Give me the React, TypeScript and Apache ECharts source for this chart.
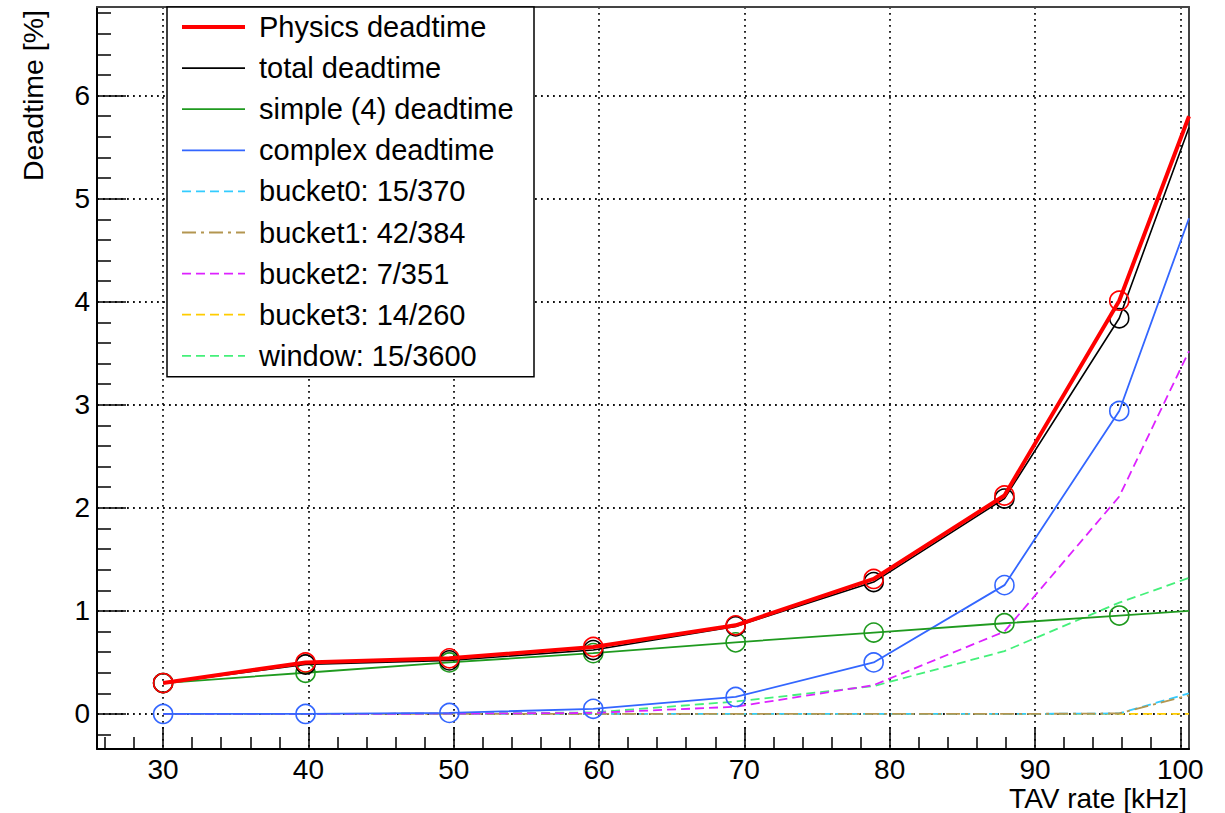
import React, { useEffect, useRef } from "react";
import * as echarts from "echarts";

// TAV rate [kHz] of each measurement (last entry = right edge of the frame, line end only)
const rateKHz = [30, 39.8, 49.7, 59.6, 69.4, 78.9, 87.9, 95.8, 100.6];

const physicsDeadtime = [0.3, 0.5, 0.54, 0.65, 0.86, 1.31, 2.12, 4.01, 5.8];
const totalDeadtime = [0.3, 0.48, 0.52, 0.62, 0.85, 1.28, 2.09, 3.84, 5.69];
const simpleDeadtime = [0.3, 0.4, 0.5, 0.59, 0.695, 0.79, 0.88, 0.955, 1.0];
const complexDeadtime = [0.0, 0.0, 0.01, 0.05, 0.165, 0.5, 1.25, 2.94, 4.81];
const bucket0 = [0, 0, 0, 0, 0, 0, 0, 0.005, 0.2];
const bucket1 = [0, 0, 0, 0, 0, 0, 0, 0.005, 0.18];
const bucket2 = [0, 0, 0.003, 0.01, 0.07, 0.28, 0.8, 2.11, 3.52];
const bucket3 = [0, 0, 0, 0, 0, 0, 0, 0, 0];
const windowDeadtime = [0, 0, 0.003, 0.015, 0.12, 0.27, 0.61, 1.08, 1.32];

const xMajorTicks = [30, 40, 50, 60, 70, 80, 90, 100];
const yMajorTicks = [0, 1, 2, 3, 4, 5, 6];

const X_MIN = 25.45;
const X_MAX = 100.6;
const Y_MIN = -0.34;
const Y_MAX = 6.86;

const FONT = "'Liberation Sans', Arial, Helvetica, sans-serif";

function minorTicks(from: number, to: number, step: number, majorStep: number) {
  const out: number[] = [];
  for (let k = Math.ceil(from / step); k * step <= to + 1e-9; k++) {
    const v = Math.round(k * step * 1000) / 1000;
    const r = v / majorStep;
    if (Math.abs(r - Math.round(r)) > 1e-6) out.push(v);
  }
  return out;
}

const xMinorTicks = minorTicks(X_MIN, X_MAX, 2, 10);
const yMinorTicks = minorTicks(Y_MIN, Y_MAX, 0.2, 1);

function points(ys: number[]) {
  return ys.map((y, i) =>
    i === ys.length - 1 ? { value: [rateKHz[i], y], symbol: "none" } : [rateKHz[i], y]
  );
}

function markerSeries(name: string, ys: number[], color: string, width: number, z: number) {
  return {
    name,
    type: "line",
    data: points(ys),
    symbol: "circle",
    symbolSize: 19,
    z,
    lineStyle: { color, width },
    itemStyle: { color: "transparent", borderColor: color, borderWidth: 1.6 },
    emphasis: { disabled: true },
  };
}

function dashedSeries(name: string, ys: number[], color: string, dash: number[], z: number) {
  return {
    name,
    type: "line",
    data: ys.map((y, i) => [rateKHz[i], y]),
    symbol: "none",
    z,
    lineStyle: { color, width: 1.8, type: dash },
    itemStyle: { color },
    emphasis: { disabled: true },
  };
}

export default function App() {
  const ref = useRef<HTMLDivElement>(null);

  useEffect(() => {
    if (!ref.current) return;
    const chart = echarts.init(ref.current, null, { renderer: "svg" });

    const gridLine = { show: true, lineStyle: { color: "#111", width: 1.8, type: [1.8, 4.2] } };

    const option: any = {
      animation: false,
      backgroundColor: "#ffffff",
      grid: {
        left: 97,
        right: 36,
        top: 7,
        bottom: 64,
        containLabel: false,
        outerBoundsMode: "none",
      },
      legend: {
        orient: "vertical",
        left: 167,
        top: 7,
        itemWidth: 63,
        itemHeight: 20,
        itemGap: 11.1,
        padding: [5, 16, 6, 13],
        backgroundColor: "#ffffff",
        borderColor: "#000",
        borderWidth: 1.5,
        itemStyle: { opacity: 0 },
        lineStyle: { width: "inherit" },
        textStyle: {
          fontSize: 29,
          fontFamily: FONT,
          color: "#000",
          lineHeight: 30,
          padding: [0, 0, 0, 9],
          width: 259,
        },
        selectedMode: false,
        data: [
          "Physics deadtime",
          "total deadtime",
          "simple (4) deadtime",
          "complex deadtime",
          "bucket0: 15/370",
          "bucket1: 42/384",
          "bucket2: 7/351",
          "bucket3: 14/260",
          "window: 15/3600",
        ],
      },
      xAxis: [
        {
          type: "value",
          min: X_MIN,
          max: X_MAX,
          splitNumber: 7,
          position: "bottom",
          axisLine: { show: true, onZero: false, lineStyle: { color: "#000", width: 2 } },
          axisTick: {
            show: true,
            inside: true,
            length: 22,
            customValues: xMajorTicks,
            lineStyle: { color: "#000", width: 1.5 },
          },
          axisLabel: {
            show: true,
            customValues: xMajorTicks,
            fontSize: 28,
            fontFamily: FONT,
            color: "#000",
            margin: 6,
          },
          splitLine: gridLine,
          name: "TAV rate [kHz]",
          nameLocation: "end",
          nameGap: 0,
          nameMoveOverlap: false,
          nameTextStyle: {
            fontSize: 28,
            fontFamily: FONT,
            color: "#000",
            align: "right",
            verticalAlign: "top",
            padding: [35, 2, 0, 0],
          },
        },
        {
          type: "value",
          min: X_MIN,
          max: X_MAX,
          position: "bottom",
          axisLine: { show: false, onZero: false },
          axisTick: {
            show: true,
            inside: true,
            length: 12,
            customValues: xMinorTicks,
            lineStyle: { color: "#000", width: 1.5 },
          },
          axisLabel: { show: false },
          splitLine: { show: false },
        },
        {
          type: "value",
          min: X_MIN,
          max: X_MAX,
          position: "top",
          axisLine: { show: true, onZero: false, lineStyle: { color: "#444", width: 2 } },
          axisTick: { show: false },
          axisLabel: { show: false },
          splitLine: { show: false },
        },
      ],
      yAxis: [
        {
          type: "value",
          min: Y_MIN,
          max: Y_MAX,
          position: "left",
          axisLine: { show: true, onZero: false, lineStyle: { color: "#000", width: 2 } },
          axisTick: {
            show: true,
            inside: true,
            length: 29,
            customValues: yMajorTicks,
            lineStyle: { color: "#000", width: 1.5 },
          },
          axisLabel: {
            show: true,
            customValues: yMajorTicks,
            fontSize: 28,
            fontFamily: FONT,
            color: "#000",
            margin: 7,
          },
          splitLine: gridLine,
          name: "Deadtime [%]",
          nameLocation: "end",
          nameGap: -3,
          nameRotate: 90,
          nameMoveOverlap: false,
          nameTextStyle: {
            fontSize: 28.5,
            fontFamily: FONT,
            color: "#000",
            align: "right",
            verticalAlign: "bottom",
            padding: [0, 0, 50, 0],
          },
        },
        {
          type: "value",
          min: Y_MIN,
          max: Y_MAX,
          position: "left",
          axisLine: { show: false, onZero: false },
          axisTick: {
            show: true,
            inside: true,
            length: 14,
            customValues: yMinorTicks,
            lineStyle: { color: "#000", width: 1.5 },
          },
          axisLabel: { show: false },
          splitLine: { show: false },
        },
        {
          type: "value",
          min: Y_MIN,
          max: Y_MAX,
          position: "right",
          axisLine: { show: true, onZero: false, lineStyle: { color: "#444", width: 2 } },
          axisTick: { show: false },
          axisLabel: { show: false },
          splitLine: { show: false },
        },
      ],
      series: [
        dashedSeries("bucket3: 14/260", bucket3, "#ffcc00", [9, 5], 3),
        dashedSeries("bucket0: 15/370", bucket0, "#33ccff", [9, 5], 3),
        dashedSeries("bucket1: 42/384", bucket1, "#b39650", [14, 5, 3, 5], 3),
        dashedSeries("window: 15/3600", windowDeadtime, "#44f07a", [9, 5], 3),
        dashedSeries("bucket2: 7/351", bucket2, "#dd22ff", [9, 5], 3),
        markerSeries("complex deadtime", complexDeadtime, "#3366ff", 1.8, 4),
        markerSeries("simple (4) deadtime", simpleDeadtime, "#1f9a1f", 1.8, 4),
        markerSeries("total deadtime", totalDeadtime, "#000000", 1.6, 5),
        markerSeries("Physics deadtime", physicsDeadtime, "#ff0000", 4, 6),
      ],
    };

    chart.setOption(option);
    return () => chart.dispose();
  }, []);

  return (
    <div
      ref={ref}
      style={{ position: "fixed", left: 0, top: 0, width: 1225, height: 813, background: "#fff" }}
    />
  );
}
